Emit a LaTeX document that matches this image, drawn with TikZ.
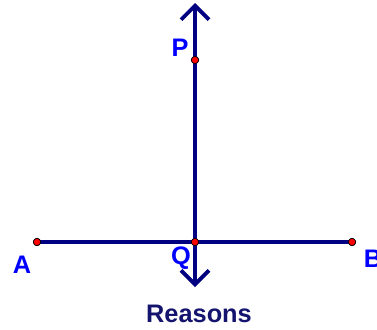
\documentclass[tikz,border=0pt]{standalone}
\usepackage{fontspec}
\setmainfont{Liberation Sans}
\usetikzlibrary{arrows.meta}
\definecolor{navy}{RGB}{0,0,128}
\definecolor{lblblue}{RGB}{0,0,255}
\definecolor{reasons}{RGB}{20,20,110}
\tikzset{
  ln/.style={draw=navy, line width=2.8pt},
  arr/.style={ln, -{Straight Barb[length=10.5pt,width=21pt,line width=2.8pt]}},
  pt/.style={circle, fill=red, draw=black, line width=0.5pt, inner sep=0pt, minimum size=5.5pt},
  lbl/.style={text=lblblue, font=\bfseries\fontsize{19}{21}\selectfont, inner sep=0pt},
}
\begin{document}
\begin{tikzpicture}[x=0.75pt,y=-0.75pt]
\useasboundingbox (0,0) rectangle (377,329);
\coordinate (top) at (195,3);
\coordinate (bot) at (195,287);
\node[pt] (P) at (195,60) {};
\node[pt] (Q) at (195,242) {};
\node[pt] (A) at (37,242) {};
\node[pt] (B) at (352,242) {};
\draw[arr] (Q.center) -- (top);
\draw[arr] (Q.center) -- (bot);
\draw[ln] (A.center) -- (B.center);
\node[pt] at (195,60) {};
\node[pt] at (195,242) {};
\node[pt] at (37,242) {};
\node[pt] at (352,242) {};
\node[lbl] (lP) at (180,48) {P};
\node[lbl] (lA) at (22,265) {A};
\node[lbl] (lQ) at (181,258) {Q};
\node[lbl] (lB) at (373,259) {B};
\node[text=reasons, font=\bfseries\fontsize{19}{21}\selectfont, inner sep=0pt] (R) at (199,314) {Reasons};
\end{tikzpicture}
\end{document}
